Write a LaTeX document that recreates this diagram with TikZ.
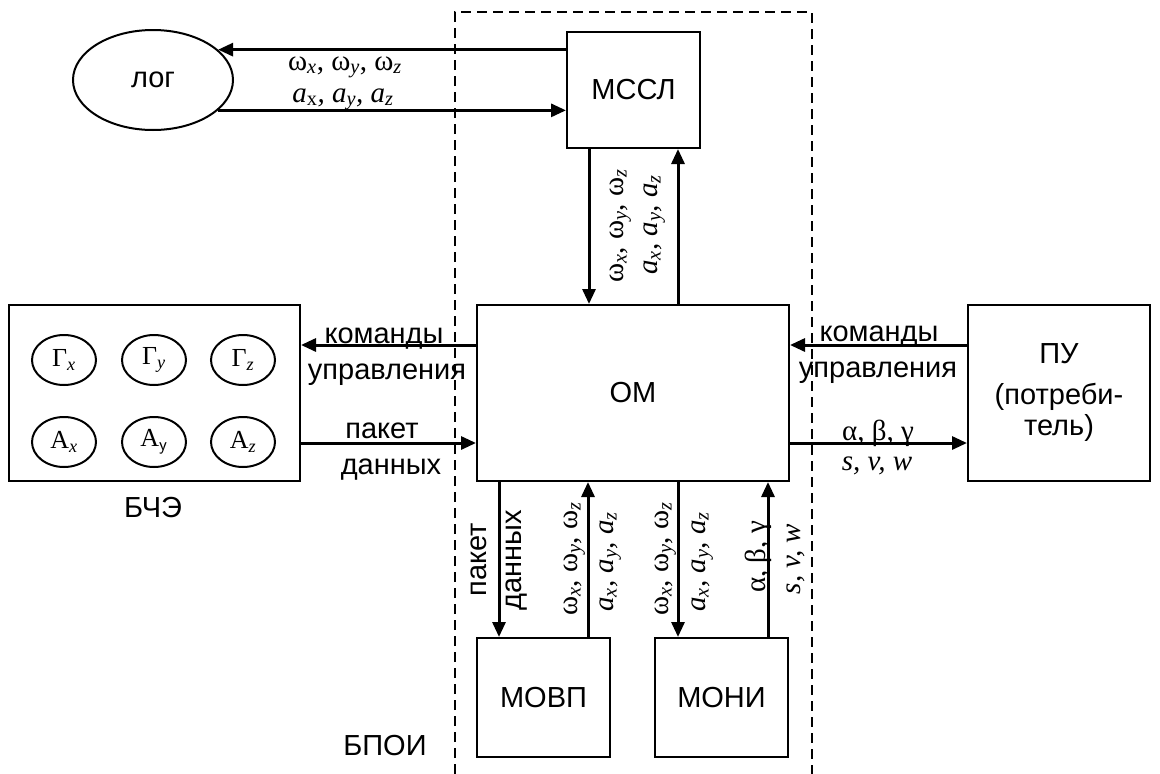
\documentclass[tikz,border=0pt]{standalone}
\usepackage{fontspec}
\setmainfont{Liberation Sans}
\newfontfamily\serifL{Liberation Serif}
\usepackage{tikz}
\usetikzlibrary{arrows.meta,shapes.geometric}
\newcommand{\Wxyz}{{\serifL ω\textsubscript{\itshape x}, ω\textsubscript{\itshape y}, ω\textsubscript{\itshape z}}}
\newcommand{\Axyz}{{\serifL\itshape a\textsubscript{x}, a\textsubscript{y}, a\textsubscript{z}}}
\newcommand{\ABG}{{\serifL α, β, γ}}
\newcommand{\SVW}{{\serifL\itshape s, v, w}}

\begin{document}
\begin{tikzpicture}[x=1pt, y=-1pt, font=\fontsize{29}{31}\selectfont,
  box/.style={draw, line width=2pt, inner sep=0pt, align=center},
  gauge/.style={box, ellipse, minimum width=64pt, minimum height=50pt,
    font=\serifL\fontsize{26}{28}\selectfont},
  arr/.style={line width=3pt, -{Triangle[length=15pt,width=13pt]}},
  lbl/.style={inner sep=0pt, anchor=base},
  vlbl/.style={lbl, rotate=90}]
        \useasboundingbox (0,0) rectangle (1160,774);
        % Frame of the processing unit
        \draw[line width=2.5pt, dash pattern=on 10pt off 6pt]
          (455,774) -- (455,12) -- (812,12) -- (812,774);
        % Blocks
        \node[box, ellipse, minimum width=160pt, minimum height=100pt] (log) at (153,80) {лог};
        \node[box, minimum width=133pt, minimum height=116pt] (mssl) at (633.5,90) {МССЛ};
        \node[box, minimum width=312pt, minimum height=176pt] (om) at (633,393) {ОМ};
        \node[box, minimum width=291pt, minimum height=176pt] (bche) at (154.5,393) {};
        \node[box, minimum width=182pt, minimum height=176pt] (pu) at (1059,393)
          {ПУ\\[10pt](потреби-\\тель)};
        \node[box, minimum width=133pt, minimum height=119pt] (movp) at (543.5,697.5) {МОВП};
        \node[box, minimum width=133pt, minimum height=119pt] (moni) at (721.5,697.5) {МОНИ};
        % Sensors
        \node[gauge] (gx) at (64,360) {Г\textsubscript{\itshape x}};
        \node[gauge] (gy) at (154,360) {Г\textsubscript{\itshape y}};
        \node[gauge] (gz) at (243,360) {Г\textsubscript{\itshape z}};
        \node[gauge] (ax) at (64,442) {А\textsubscript{\itshape x}};
        \node[gauge] (ay) at (154,442) {А\textsubscript{\sffamily y}};
        \node[gauge] (az) at (243,442) {А\textsubscript{\itshape z}};
        % Arrow lanes
        \coordinate (xA) at (589,0);
        \coordinate (xB) at (678,0);
        \coordinate (xC) at (499,0);
        \coordinate (xD) at (588,0);
        \coordinate (xE) at (678,0);
        \coordinate (xF) at (768,0);
        \coordinate (yCmd) at (0,345);
        \coordinate (yDat) at (0,443);
        % Connections
        \draw[arr] (mssl.west |- log.25) -- (log.25);
        \draw[arr] (log.-25) -- (mssl.west |- log.-25);
        \draw[arr] (xA |- mssl.south) -- (xA |- om.north);
        \draw[arr] (xB |- om.north) -- (xB |- mssl.south);
        \draw[arr] (om.west |- yCmd) -- (bche.east |- yCmd);
        \draw[arr] (bche.east |- yDat) -- (om.west |- yDat);
        \draw[arr] (pu.west |- yCmd) -- (om.east |- yCmd);
        \draw[arr] (om.east |- yDat) -- (pu.west |- yDat);
        \draw[arr] (xC |- om.south) -- (xC |- movp.north);
        \draw[arr] (xD |- movp.north) -- (xD |- om.south);
        \draw[arr] (xE |- om.south) -- (xE |- moni.north);
        \draw[arr] (xF |- moni.north) -- (xF |- om.south);
        % Labels
        \node[lbl] (wTop) at (345,70) {\Wxyz};
        \node[lbl] (aTop) at (343,102)
          {\serifL\itshape a\textsubscript{\upshape x}, a\textsubscript{y}, a\textsubscript{z}};
        \node[vlbl] (wMssl) at (623,226) {\Wxyz};
        \node[vlbl] (aMssl) at (657,225) {\Axyz};
        \node[lbl] (cmdL) at (384,343) {команды};
        \node[lbl] (ctlL) at (387,379) {управления};
        \node[lbl] (pakL) at (382,438) {пакет};
        \node[lbl] (datL) at (391,474) {данных};
        \node[lbl] (cmdR) at (879,341) {команды};
        \node[lbl] (ctlR) at (878,377) {управления};
        \node[lbl] (abgR) at (878,440) {\ABG};
        \node[lbl] (svwR) at (877,470) {\SVW};
        \node[vlbl] (pakB) at (486,560) {пакет};
        \node[vlbl] (datB) at (521,560) {данных};
        \node[vlbl] (wB1) at (577,559) {\Wxyz};
        \node[vlbl] (aB1) at (613,562) {\Axyz};
        \node[vlbl] (wB2) at (668,559) {\Wxyz};
        \node[vlbl] (aB2) at (705,562) {\Axyz};
        \node[vlbl] (abgB) at (765,557) {\ABG};
        \node[vlbl] (svwB) at (800,559) {\SVW};
        \node[lbl] (bcheL) at (153,517) {БЧЭ};
        \node[lbl] (bpoiL) at (385,755) {БПОИ};
      \end{tikzpicture}
\end{document}
